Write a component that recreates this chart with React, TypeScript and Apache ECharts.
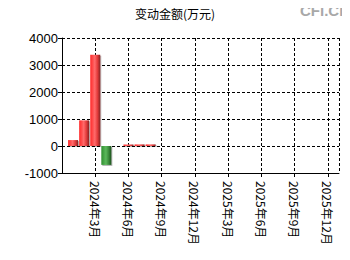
import React, { useEffect, useRef } from "react";
import * as echarts from "echarts";

// months since 2023-12
const months = [1, 2, 3, 4, 6, 7, 8];
const values = [220, 950, 3380, -700, 60, 60, 60];
const tickLabels: Record<number, string> = {
  3: "2024年3月",
  6: "2024年6月",
  9: "2024年9月",
  12: "2024年12月",
  15: "2025年3月",
  18: "2025年6月",
  21: "2025年9月",
  24: "2025年12月",
};

const redGrad = new echarts.graphic.LinearGradient(0, 0, 1, 0, [
  { offset: 0, color: "#ff2828" },
  { offset: 0.45, color: "#ff6a6a" },
  { offset: 0.72, color: "#e43c3c" },
  { offset: 1, color: "#862222" },
]);
const greenGrad = new echarts.graphic.LinearGradient(0, 0, 1, 0, [
  { offset: 0, color: "#2f8f2f" },
  { offset: 0.45, color: "#5cb85c" },
  { offset: 0.75, color: "#3a8a3a" },
  { offset: 1, color: "#1c4f1c" },
]);

export default function App() {
  const ref = useRef<HTMLDivElement>(null);
  useEffect(() => {
    const chart = echarts.init(ref.current!, undefined, { renderer: "svg" });
    chart.setOption({
      animation: false,
      backgroundColor: "#ffffff",
      title: {
        text: "变动金额(万元)",
        left: 175,
        top: 7,
        textAlign: "center",
        padding: 0,
        textStyle: { fontSize: 12, fontWeight: "normal", color: "#000", fontFamily: "Noto Sans CJK SC" },
      },
      graphic: [
        {
          type: "text",
          x: 300,
          y: 3,
          style: {
            text: "CFi.CN",
            fill: "#a8a8a8",
            fontSize: 15,
            fontWeight: "bold",
            fontFamily: "Liberation Sans",
            verticalAlign: "top",
            align: "left",
          },
        },
      ],
      grid: { left: 62, right: 11, top: 38, bottom: 87 },
      xAxis: {
        type: "value",
        min: 0,
        max: 25,
        interval: 3,
        axisLine: { show: true, onZero: false, lineStyle: { color: "#000" } },
        axisTick: { show: true, length: 4, lineStyle: { color: "#000" } },
        axisLabel: {
          rotate: -90,
          fontSize: 12,
          color: "#000",
          margin: 8,
          fontFamily: "Noto Sans CJK SC",
          showMinLabel: false,
          showMaxLabel: false,
          formatter: (v: number) => tickLabels[v] || "",
        },
        splitLine: { show: true, lineStyle: { color: "#000", type: [3, 2], width: 1 } },
      },
      yAxis: {
        type: "value",
        min: -1000,
        max: 4000,
        interval: 1000,
        axisLine: { show: true, lineStyle: { color: "#000" } },
        axisTick: { show: true, length: 4, lineStyle: { color: "#000" } },
        axisLabel: {
          fontSize: 13,
          color: "#000",
          margin: 4,
          fontFamily: "Liberation Sans",
          formatter: (v: number) => String(v),
        },
        splitLine: { show: true, lineStyle: { color: "#000", type: [3, 2], width: 1 } },
      },
      series: [
        {
          type: "bar",
          barWidth: 10,
          data: months.map((m, i) => ({
            value: [m, values[i]],
            itemStyle: {
              color: values[i] >= 0 ? redGrad : greenGrad,
              shadowColor: "rgba(0,0,0,0.3)",
              shadowOffsetX: 1,
              shadowOffsetY: 1,
              shadowBlur: 1,
            },
          })),
        },
      ],
    });
    return () => chart.dispose();
  }, []);
  return <div ref={ref} style={{ width: 350, height: 260, margin: -8 }} />;
}
